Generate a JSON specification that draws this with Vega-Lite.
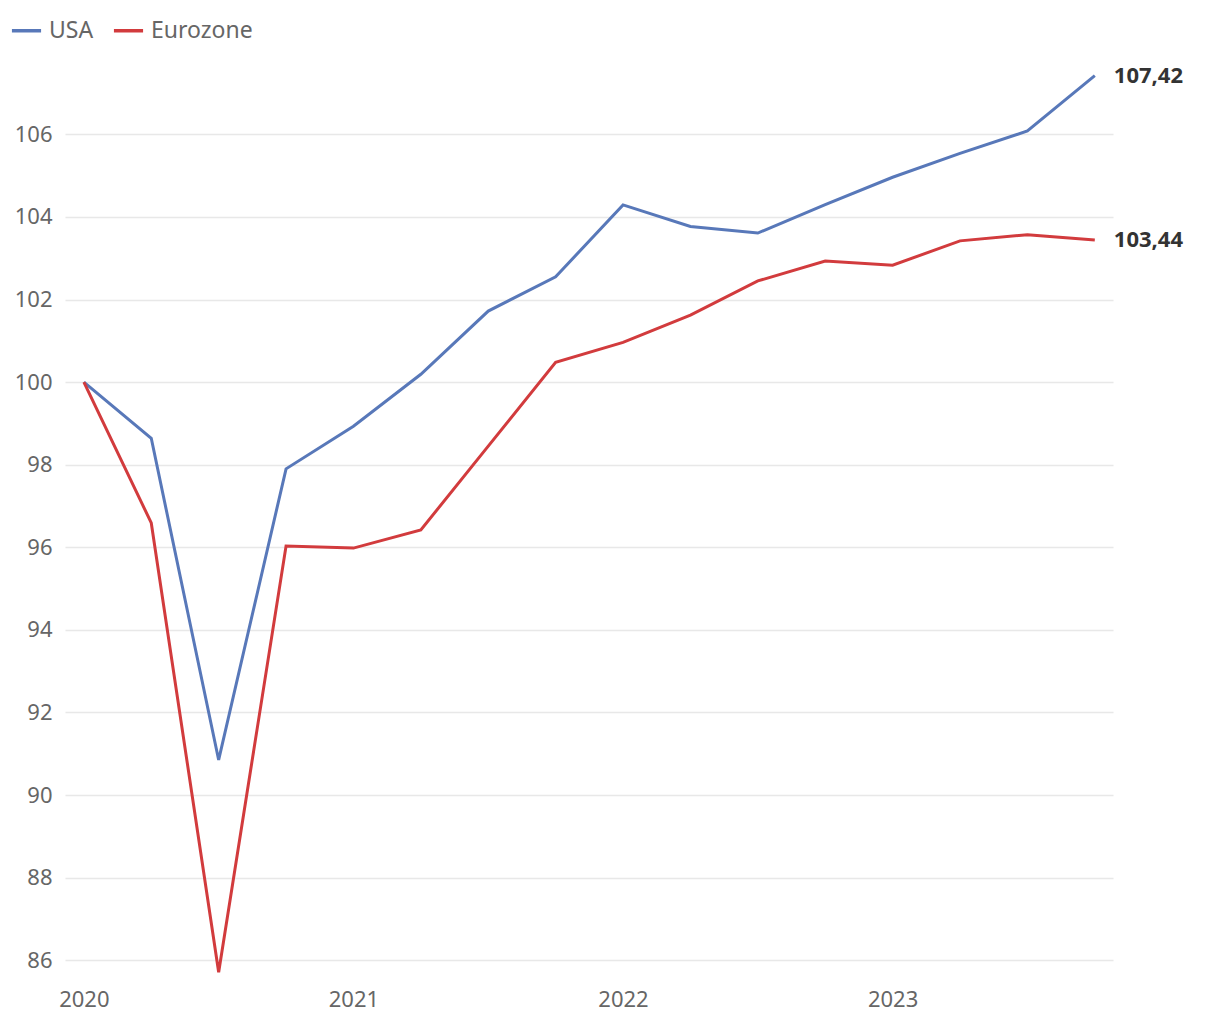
{
  "$schema": "https://vega.github.io/schema/vega-lite/v6.json",
  "autosize": "none",
  "width": 1048,
  "height": 925,
  "padding": {"left": 65, "top": 60, "right": 107, "bottom": 35},
  "background": "white",
  "config": {
    "font": "Noto Sans",
    "view": {"stroke": null},
    "axis": {"labelFont": "Noto Sans", "labelColor": "#666666", "labelFontSize": 22, "domain": false, "ticks": false}
  },
  "data": {
    "values": [
      {"q": 0, "series": "USA", "value": 100},
      {"q": 1, "series": "USA", "value": 98.64},
      {"q": 2, "series": "USA", "value": 90.85},
      {"q": 3, "series": "USA", "value": 97.9},
      {"q": 4, "series": "USA", "value": 98.93},
      {"q": 5, "series": "USA", "value": 100.19},
      {"q": 6, "series": "USA", "value": 101.72},
      {"q": 7, "series": "USA", "value": 102.55},
      {"q": 8, "series": "USA", "value": 104.29},
      {"q": 9, "series": "USA", "value": 103.77},
      {"q": 10, "series": "USA", "value": 103.61},
      {"q": 11, "series": "USA", "value": 104.3},
      {"q": 12, "series": "USA", "value": 104.96},
      {"q": 13, "series": "USA", "value": 105.54},
      {"q": 14, "series": "USA", "value": 106.08},
      {"q": 15, "series": "USA", "value": 107.42},
      {"q": 0, "series": "Eurozone", "value": 100},
      {"q": 1, "series": "Eurozone", "value": 96.59},
      {"q": 2, "series": "Eurozone", "value": 85.71},
      {"q": 3, "series": "Eurozone", "value": 96.03},
      {"q": 4, "series": "Eurozone", "value": 95.98},
      {"q": 5, "series": "Eurozone", "value": 96.42},
      {"q": 6, "series": "Eurozone", "value": 98.45},
      {"q": 7, "series": "Eurozone", "value": 100.48},
      {"q": 8, "series": "Eurozone", "value": 100.96},
      {"q": 9, "series": "Eurozone", "value": 101.62},
      {"q": 10, "series": "Eurozone", "value": 102.45},
      {"q": 11, "series": "Eurozone", "value": 102.93},
      {"q": 12, "series": "Eurozone", "value": 102.83},
      {"q": 13, "series": "Eurozone", "value": 103.42},
      {"q": 14, "series": "Eurozone", "value": 103.57},
      {"q": 15, "series": "Eurozone", "value": 103.44}
    ]
  },
  "encoding": {
    "x": {
      "field": "q", "type": "quantitative",
      "scale": {"domain": [-0.28, 15.27], "nice": false, "zero": false},
      "axis": {"title": null, "values": [0, 4, 8, 12], "grid": false, "labelPadding": 4,
        "labelExpr": "2020 + datum.value / 4"}
    },
    "y": {
      "field": "value", "type": "quantitative",
      "scale": {"domain": [85.4, 107.8], "nice": false, "zero": false},
      "axis": {"title": null, "values": [86, 88, 90, 92, 94, 96, 98, 100, 102, 104, 106],
        "grid": true, "gridColor": "#e8e8e8", "gridWidth": 1.5, "labelPadding": 13}
    },
    "color": {
      "field": "series", "type": "nominal",
      "scale": {"domain": ["USA", "Eurozone"], "range": ["#5878b9", "#d23b3d"]},
      "legend": {
        "title": null, "orient": "none", "legendX": -55, "legendY": -46,
        "direction": "horizontal", "symbolType": "stroke", "symbolStrokeWidth": 3.5,
        "symbolSize": 850, "labelFontSize": 23, "labelColor": "#666666", "labelFont": "Noto Sans",
        "columnPadding": 12, "labelOffset": 6
      }
    }
  },
  "layer": [
    {"mark": {"type": "line", "strokeWidth": 3}},
    {
      "transform": [
        {"filter": "datum.q == 15"},
        {"calculate": "replace(format(datum.value, '.2f'), '.', ',')", "as": "lbl"}
      ],
      "mark": {"type": "text", "align": "left", "dx": 19, "fontSize": 22, "fontWeight": "bold", "color": "#333333", "font": "Noto Sans"},
      "encoding": {"text": {"field": "lbl"}, "color": {"value": "#333333"}}
    }
  ]
}
